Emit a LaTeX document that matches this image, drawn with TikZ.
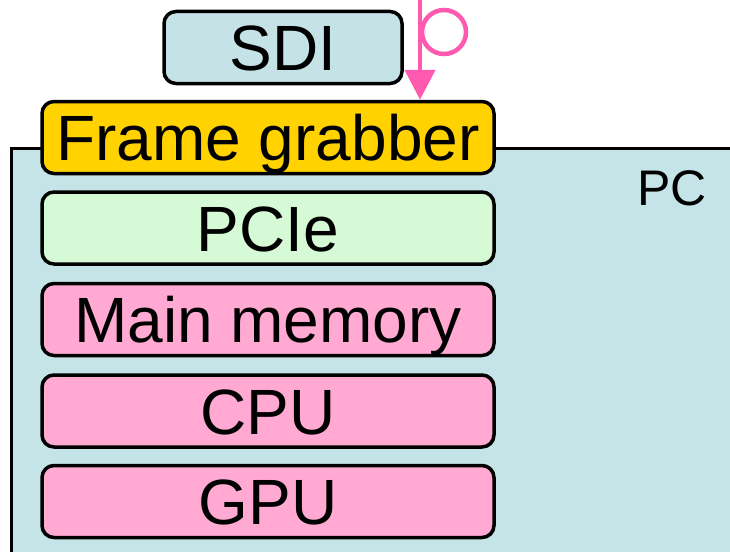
\documentclass[tikz,border=0pt]{standalone}
\usepackage{fontspec}
\setmainfont{Liberation Sans}
\usetikzlibrary{arrows.meta}
\definecolor{pcfill}{HTML}{C5E4E7}
\definecolor{sdifill}{HTML}{C5E3E6}
\definecolor{fgfill}{HTML}{FFD200}
\definecolor{pciefill}{HTML}{D5FAD5}
\definecolor{pinkfill}{HTML}{FFA9D3}
\definecolor{arrowpink}{HTML}{FF5AAF}
\tikzset{
  blk/.style={draw=black, line width=3.5pt, rounded corners=12pt, minimum width=452pt, minimum height=72pt, inner sep=0pt, text height=46pt, text depth=0pt, font=\fontsize{64}{64}\selectfont},
  pclabel/.style={font=\fontsize{50}{50}\selectfont, inner sep=0pt, text height=36pt, text depth=0pt},
  sig/.style={draw=arrowpink, line width=4.5pt}
}
\begin{document}
\begin{tikzpicture}[x=1pt,y=-1pt]
\useasboundingbox (0,0) rectangle (730,551);
\begin{scope}
\clip (0,0) rectangle (730,551);
\node[draw=black, line width=3pt, fill=pcfill, anchor=north west, minimum width=760pt, minimum height=440pt, inner sep=0pt] (pc) at (10,147) {};
\end{scope}
\node[pclabel] (pcl) at (672,187) {PC};
\node[blk, fill=sdifill, minimum width=238pt] (sdi) at (283,47.5) {SDI};
\node[blk, fill=fgfill] (fg) at (268,137.5) {Frame grabber};
\node[blk, fill=pciefill] (pcie) at (268,228) {PCIe};
\node[blk, fill=pinkfill] (mem) at (268,319.5) {Main memory};
\node[blk, fill=pinkfill] (cpu) at (268,411) {CPU};
\node[blk, fill=pinkfill] (gpu) at (268,501.5) {GPU};
\coordinate (src) at (420,-5);
\draw[sig, -{Triangle[width=30pt,length=30pt]}] (src) -- (src |- fg.north);
\node[sig, circle, minimum size=44pt, inner sep=0pt] (loop) at (444,32) {};
\end{tikzpicture}
\end{document}
